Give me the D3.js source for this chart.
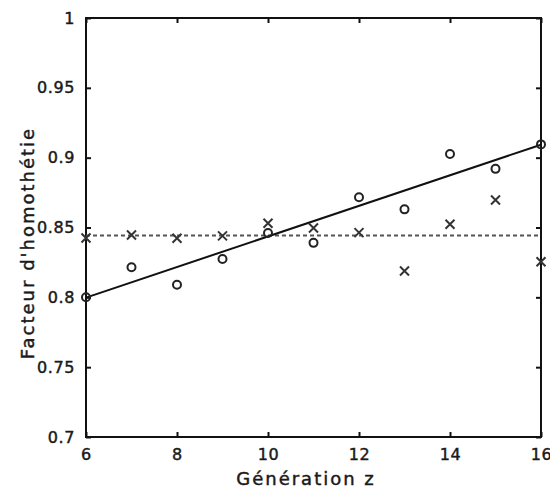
<!DOCTYPE html>
<html>
<head>
<meta charset="utf-8">
<script src="https://cdn.jsdelivr.net/npm/d3@7"></script>
<style>
  html, body { margin: 0; padding: 0; background: #fff; }
  svg { display: block; }
  text { font-family: "DejaVu Sans", sans-serif; fill: #1a1a1a; stroke: #1a1a1a; stroke-width: 0.45px; }
</style>
</head>
<body>
<svg id="chart" width="550" height="492"></svg>
<script>
// ---- Data ----
const generations = [6, 7, 8, 9, 10, 11, 12, 13, 14, 15, 16];
const circleValues = [0.800, 0.8215, 0.809, 0.8275, 0.846, 0.839, 0.8716, 0.863, 0.9026, 0.892, 0.9095];
const crossValues  = [0.8425, 0.8446, 0.8423, 0.844, 0.853, 0.8496, 0.8463, 0.8189, 0.8523, 0.8697, 0.8255];
const fitLineX = [6, 16];
const fitLineY = [0.7998, 0.9093];
const meanLineX = [6, 16];
const meanLineY = [0.8442, 0.8442];
const xTicks = [6, 8, 10, 12, 14, 16];
const yTicks = [0.7, 0.75, 0.8, 0.85, 0.9, 0.95, 1];
const yTickLabels = ["0.7", "0.75", "0.8", "0.85", "0.9", "0.95", "1"];
const xLabel = "Génération z";
const yLabel = "Facteur d'homothétie";

// ---- Layout ----
const svg = d3.select("#chart");
const L = 86, R = 541, T = 18, B = 437;

const x = d3.scaleLinear().domain([6, 16]).range([L, R]);
const y = d3.scaleLinear().domain([0.7, 1]).range([B, T]);

const tickFontSize = 16;
const tickLetterSpacing = "0.6px";

// Axes with inward ticks
const gBottom = svg.append("g").attr("transform", `translate(0,${B})`)
  .call(d3.axisBottom(x).tickValues(xTicks).tickSizeInner(-5).tickSizeOuter(0).tickPadding(12).tickFormat(d3.format("d")));
const gTop = svg.append("g").attr("transform", `translate(0,${T})`)
  .call(d3.axisTop(x).tickValues(xTicks).tickSizeInner(-5).tickSizeOuter(0).tickFormat(""));
const gLeft = svg.append("g").attr("transform", `translate(${L},0)`)
  .call(d3.axisLeft(y).tickValues(yTicks).tickSizeInner(-5).tickSizeOuter(0).tickPadding(11)
    .tickFormat((d, i) => yTickLabels[i]));
const gRight = svg.append("g").attr("transform", `translate(${R},0)`)
  .call(d3.axisRight(y).tickValues(yTicks).tickSizeInner(-5).tickSizeOuter(0).tickFormat(""));

[gBottom, gTop, gLeft, gRight].forEach(g => {
  g.select(".domain").remove();
  g.selectAll(".tick line").attr("stroke", "#111").attr("stroke-width", 2);
  g.selectAll(".tick text")
    .style("font-family", "'DejaVu Sans', sans-serif")
    .style("font-size", tickFontSize + "px")
    .style("letter-spacing", tickLetterSpacing)
    .attr("fill", "#1a1a1a");
});

// Box frame
svg.append("rect")
  .attr("x", x(6)).attr("y", y(1))
  .attr("width", x(16) - x(6)).attr("height", y(0.7) - y(1))
  .attr("fill", "none").attr("stroke", "#111").attr("stroke-width", 2);

// Mean (dashed) line
svg.append("line")
  .attr("x1", x(meanLineX[0])).attr("y1", y(meanLineY[0]))
  .attr("x2", x(meanLineX[1])).attr("y2", y(meanLineY[1]))
  .attr("stroke", "#555").attr("stroke-width", 2).attr("stroke-dasharray", "4,3");

// Fit (solid) line
svg.append("line")
  .attr("x1", x(fitLineX[0])).attr("y1", y(fitLineY[0]))
  .attr("x2", x(fitLineX[1])).attr("y2", y(fitLineY[1]))
  .attr("stroke", "#111").attr("stroke-width", 2);

// Circles
svg.append("g").selectAll("circle")
  .data(generations.map((g, i) => ({ g, v: circleValues[i] })))
  .join("circle")
  .attr("cx", d => x(d.g)).attr("cy", d => y(d.v)).attr("r", 4)
  .attr("fill", "none").attr("stroke", "#222").attr("stroke-width", 2);

// Crosses
const cs = 4.5;
svg.append("g").selectAll("path")
  .data(generations.map((g, i) => ({ g, v: crossValues[i] })))
  .join("path")
  .attr("d", d => {
    const cx = x(d.g), cy = y(d.v);
    return `M${cx - cs},${cy - cs}L${cx + cs},${cy + cs}M${cx - cs},${cy + cs}L${cx + cs},${cy - cs}`;
  })
  .attr("fill", "none").attr("stroke", "#333").attr("stroke-width", 2);

// Axis labels
svg.append("text")
  .attr("x", 306).attr("y", 485)
  .attr("text-anchor", "middle")
  .style("font-size", "18px").style("letter-spacing", "2px")
  .text(xLabel);

svg.append("text")
  .attr("transform", "translate(34,243) rotate(-90)")
  .attr("text-anchor", "middle")
  .style("font-size", "18px").style("letter-spacing", "2px")
  .text(yLabel);
</script>
</body>
</html>
